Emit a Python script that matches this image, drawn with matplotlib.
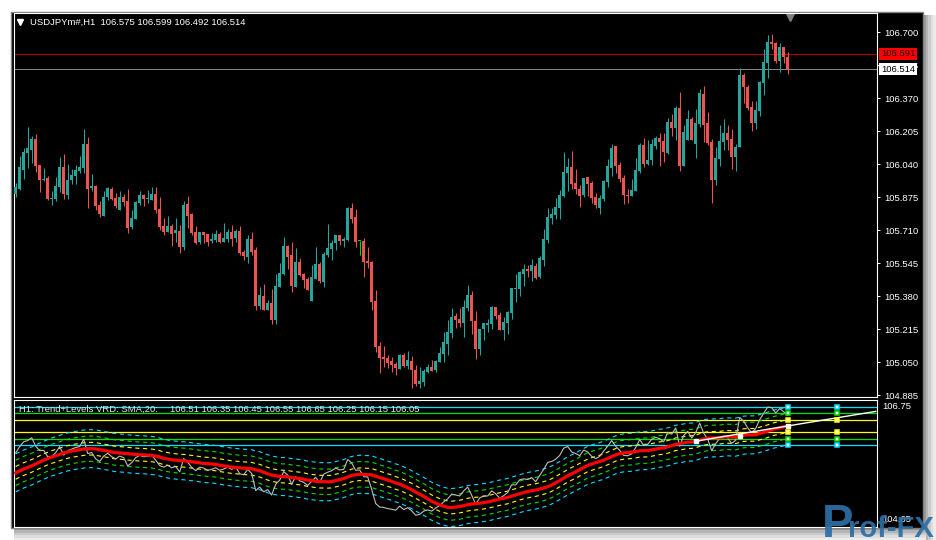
import numpy as np
import matplotlib
matplotlib.use("Agg")
import matplotlib.pyplot as plt
from matplotlib.patches import Rectangle
from matplotlib.transforms import blended_transform_factory

plt.rcParams['font.family'] = ['Liberation Sans', 'DejaVu Sans']
plt.rcParams['lines.scale_dashes'] = False

# ---------------- data (USDJPY H1 candles) ----------------
opens = [105.890, 105.915, 106.010, 106.095, 106.110, 106.165, 106.035, 105.960, 105.970, 105.865,
         105.865, 105.925, 106.025, 105.885, 105.960, 105.980, 106.005, 106.020, 106.140, 105.920,
         105.930, 105.835, 105.780, 105.875, 105.915, 105.870, 105.810, 105.875, 105.855, 105.725,
         105.765, 105.845, 105.885, 105.865, 105.860, 105.890, 105.815, 105.730, 105.700, 105.730,
         105.695, 105.705, 105.625, 105.840, 105.790, 105.700, 105.650, 105.700, 105.690, 105.655,
         105.660, 105.690, 105.650, 105.665, 105.700, 105.670, 105.705, 105.600, 105.575, 105.665,
         105.610, 105.330, 105.380, 105.310, 105.345, 105.260, 105.425, 105.490, 105.630, 105.585,
         105.425, 105.550, 105.490, 105.465, 105.355, 105.465, 105.540, 105.450, 105.585, 105.615,
         105.645, 105.685, 105.655, 105.660, 105.820, 105.775, 105.655, 105.655, 105.555, 105.550,
         105.355, 105.130, 105.075, 105.070, 105.055, 105.040, 105.015, 105.085, 105.030, 105.055,
         105.010, 104.940, 104.950, 105.000, 105.025, 105.010, 105.050, 105.090, 105.140, 105.195,
         105.280, 105.265, 105.245, 105.320, 105.385, 105.255, 105.115, 105.215, 105.235, 105.240,
         105.325, 105.285, 105.210, 105.245, 105.295, 105.415, 105.415, 105.490, 105.515, 105.505,
         105.530, 105.475, 105.560, 105.660, 105.770, 105.785, 105.820, 105.880, 105.995, 106.025,
         105.945, 105.915, 105.885, 105.975, 105.945, 105.875, 105.820, 105.865, 105.950, 106.020,
         106.130, 106.035, 105.970, 105.885, 105.880, 105.905, 106.005, 106.135, 106.040, 106.060,
         106.130, 106.170, 106.155, 106.095, 106.250, 106.220, 106.320, 106.030, 106.160, 106.265,
         106.140, 106.240, 106.390, 106.245, 106.150, 105.960, 106.065, 106.150, 106.195, 106.165,
         106.075, 106.125, 106.485, 106.425, 106.325, 106.245, 106.305, 106.445, 106.545, 106.650,
         106.645, 106.555, 106.625, 106.575]
highs = [105.945, 106.080, 106.120, 106.225, 106.180, 106.190, 106.035, 106.020, 105.980, 105.905,
         105.975, 106.075, 106.090, 106.040, 106.015, 106.035, 106.080, 106.215, 106.175, 105.990,
         105.935, 105.855, 105.905, 105.925, 105.925, 105.895, 105.905, 105.890, 105.915, 105.810,
         105.855, 105.905, 105.890, 105.910, 105.925, 105.925, 105.875, 105.770, 105.780, 105.740,
         105.770, 105.735, 105.855, 105.880, 105.795, 105.730, 105.700, 105.700, 105.690, 105.695,
         105.710, 105.700, 105.745, 105.715, 105.735, 105.715, 105.730, 105.610, 105.685, 105.700,
         105.625, 105.425, 105.440, 105.360, 105.415, 105.490, 105.545, 105.675, 105.635, 105.650,
         105.620, 105.570, 105.495, 105.475, 105.535, 105.625, 105.550, 105.600, 105.740, 105.660,
         105.685, 105.685, 105.675, 105.825, 105.845, 105.815, 105.655, 105.670, 105.625, 105.555,
         105.410, 105.150, 105.130, 105.085, 105.075, 105.050, 105.090, 105.095, 105.105, 105.080,
         105.035, 105.025, 105.015, 105.040, 105.060, 105.060, 105.125, 105.200, 105.260, 105.320,
         105.295, 105.320, 105.360, 105.435, 105.405, 105.305, 105.215, 105.245, 105.265, 105.330,
         105.325, 105.300, 105.275, 105.305, 105.420, 105.490, 105.505, 105.540, 105.535, 105.565,
         105.545, 105.580, 105.715, 105.820, 105.820, 105.870, 105.910, 106.100, 106.070, 106.105,
         106.015, 105.935, 105.970, 105.975, 105.955, 105.895, 105.885, 105.960, 106.065, 106.140,
         106.130, 106.050, 105.985, 105.915, 105.965, 106.070, 106.145, 106.170, 106.160, 106.165,
         106.180, 106.195, 106.195, 106.270, 106.290, 106.330, 106.400, 106.235, 106.310, 106.275,
         106.315, 106.415, 106.430, 106.300, 106.165, 106.125, 106.235, 106.265, 106.235, 106.215,
         106.140, 106.520, 106.495, 106.435, 106.355, 106.355, 106.455, 106.615, 106.685, 106.690,
         106.650, 106.645, 106.625, 106.599]
lows = [105.875, 105.910, 105.965, 106.020, 106.045, 106.000, 105.900, 105.955, 105.860, 105.835,
        105.855, 105.900, 105.865, 105.865, 105.940, 105.940, 105.995, 105.995, 105.820, 105.905,
        105.810, 105.775, 105.780, 105.860, 105.860, 105.820, 105.810, 105.830, 105.695, 105.715,
        105.765, 105.835, 105.830, 105.845, 105.860, 105.795, 105.710, 105.685, 105.700, 105.630,
        105.650, 105.595, 105.610, 105.720, 105.685, 105.640, 105.640, 105.645, 105.630, 105.645,
        105.650, 105.645, 105.650, 105.650, 105.630, 105.650, 105.585, 105.560, 105.545, 105.585,
        105.310, 105.315, 105.310, 105.310, 105.240, 105.240, 105.425, 105.485, 105.515, 105.400,
        105.425, 105.480, 105.420, 105.410, 105.355, 105.465, 105.445, 105.425, 105.575, 105.560,
        105.610, 105.635, 105.625, 105.655, 105.745, 105.625, 105.585, 105.475, 105.520, 105.310,
        105.100, 104.995, 105.025, 105.020, 105.000, 104.985, 105.015, 105.025, 105.015, 104.920,
        104.930, 104.920, 104.930, 104.995, 105.005, 105.000, 105.050, 105.050, 105.085, 105.170,
        105.220, 105.225, 105.175, 105.305, 105.190, 105.065, 105.085, 105.160, 105.200, 105.215,
        105.265, 105.210, 105.160, 105.190, 105.265, 105.350, 105.380, 105.430, 105.475, 105.455,
        105.465, 105.470, 105.530, 105.645, 105.740, 105.765, 105.765, 105.875, 105.905, 105.915,
        105.890, 105.825, 105.875, 105.880, 105.845, 105.820, 105.790, 105.855, 105.925, 105.980,
        105.995, 105.950, 105.840, 105.845, 105.880, 105.905, 105.995, 106.025, 106.035, 106.035,
        106.115, 106.030, 106.050, 106.090, 106.180, 106.160, 106.005, 106.030, 106.160, 106.160,
        106.070, 106.225, 106.150, 106.135, 105.845, 105.935, 106.030, 106.110, 106.110, 106.015,
        106.005, 106.125, 106.345, 106.310, 106.205, 106.215, 106.280, 106.385, 106.470, 106.615,
        106.545, 106.500, 106.545, 106.492]
closes = [105.925, 106.025, 106.100, 106.120, 106.165, 106.030, 105.960, 105.965, 105.865, 105.870,
          105.930, 106.025, 105.890, 105.960, 105.985, 106.010, 106.025, 106.140, 105.915, 105.930,
          105.830, 105.790, 105.875, 105.920, 105.865, 105.830, 105.875, 105.850, 105.720, 105.770,
          105.850, 105.885, 105.865, 105.870, 105.890, 105.810, 105.725, 105.700, 105.730, 105.690,
          105.710, 105.625, 105.835, 105.780, 105.695, 105.645, 105.700, 105.685, 105.650, 105.665,
          105.690, 105.650, 105.670, 105.700, 105.665, 105.705, 105.595, 105.580, 105.665, 105.600,
          105.330, 105.385, 105.310, 105.345, 105.260, 105.430, 105.495, 105.630, 105.575, 105.430,
          105.550, 105.485, 105.460, 105.410, 105.475, 105.540, 105.455, 105.590, 105.620, 105.645,
          105.685, 105.655, 105.665, 105.820, 105.765, 105.650, 105.655, 105.550, 105.545, 105.350,
          105.125, 105.070, 105.065, 105.045, 105.035, 105.020, 105.085, 105.030, 105.060, 105.010,
          104.940, 104.955, 105.005, 105.025, 105.005, 105.055, 105.095, 105.150, 105.200, 105.275,
          105.260, 105.245, 105.325, 105.385, 105.255, 105.115, 105.215, 105.245, 105.245, 105.325,
          105.280, 105.210, 105.250, 105.300, 105.420, 105.420, 105.500, 105.515, 105.505, 105.535,
          105.470, 105.570, 105.665, 105.775, 105.790, 105.825, 105.885, 106.000, 106.025, 105.940,
          105.915, 105.880, 105.970, 105.940, 105.870, 105.835, 105.870, 105.955, 106.030, 106.120,
          106.030, 105.965, 105.885, 105.880, 105.910, 106.010, 106.135, 106.040, 106.060, 106.140,
          106.170, 106.150, 106.100, 106.250, 106.220, 106.320, 106.030, 106.200, 106.265, 106.160,
          106.245, 106.395, 106.235, 106.145, 105.960, 106.070, 106.155, 106.195, 106.160, 106.075,
          106.125, 106.485, 106.425, 106.320, 106.245, 106.310, 106.450, 106.550, 106.650, 106.640,
          106.555, 106.625, 106.575, 106.514]

# SMA(20) values for the first bars (history before the window)
sma_head = [105.610, 105.640, 105.670, 105.695, 105.720, 105.750, 105.780, 105.810, 105.835, 105.860,
            105.880, 105.900, 105.925, 105.940, 105.955, 105.965, 105.975, 105.985, 105.990]
sma_period = 20
level_offsets = [0.1, 0.2, 0.3]
level_colors = ['#ffff00', '#00dd00', '#00e0ff']
ask_price = 106.591
price_ticks = [104.885, 105.050, 105.215, 105.380, 105.545, 105.710, 105.875,
               106.040, 106.205, 106.370, 106.535, 106.700]
trend_bars = [170, 215]
trend_vals = [106.11, 106.58]
marker_bars = [170, 181]
sub_max_label = '106.75'
sub_min_label = '104.65'
symbol = 'USDJPYm#,H1'
ind_name = 'H1: Trend+Levels VRD: SMA,20:'

o = np.array(opens); h = np.array(highs); l = np.array(lows); c = np.array(closes)
n = len(c)
x = np.arange(n)
sma = np.empty(n)
sma[:sma_period - 1] = sma_head
cs = np.convolve(c, np.ones(sma_period) / sma_period, mode='valid')
sma[sma_period - 1:] = cs
center = round(sma[-1], 2)

# ---------------- figure ----------------
W, H = 936, 540
fig = plt.figure(figsize=(W / 100, H / 100), dpi=100)
fig.patch.set_facecolor('white')

bg = fig.add_axes([0, 0, 1, 1])
bg.set_xlim(0, W); bg.set_ylim(H, 0); bg.axis('off')
shades = ['#9a9a9a', '#b4b4b4', '#cbcbcb', '#dedede', '#ececec']
for k, col in enumerate(shades):
    bg.add_patch(Rectangle((923 + k * 2.6, 15), 2.7, 527, color=col, lw=0))
    bg.add_patch(Rectangle((14, 528 + k * 2.4), 912, 2.5, color=col, lw=0))
bg.add_patch(Rectangle((11, 12), 912, 516, facecolor='black', edgecolor='#808080', lw=1))

xl = (-0.425, 215.325)

# ---------------- main price panel ----------------
ax = fig.add_axes([14 / W, 1 - 397 / H, 863 / W, 384 / H])
ax.set_facecolor('black')
ax.set_xlim(*xl)
ax.set_ylim(104.875, 106.795)
for s in ax.spines.values():
    s.set_color('white'); s.set_linewidth(0.8)
ax.set_xticks([])
ax.yaxis.tick_right()
ax.set_yticks(price_ticks)
ax.set_yticklabels([f'{t:.3f}' for t in price_ticks])
ax.tick_params(axis='y', colors='white', length=2, width=0.7, pad=3, labelsize=6.8)

up_col, dn_col, doji_col = '#26a69a', '#ef5350', '#00dd00'
cols = np.where(c > o, up_col, np.where(c < o, dn_col, doji_col))
ax.vlines(x, l, h, colors=cols, lw=0.75, zorder=3)
body = np.maximum(np.abs(c - o), 0.004)
ax.bar(x, body, bottom=np.minimum(o, c), width=0.75, color=cols, lw=0, zorder=3)

ax.axhline(ask_price, color='#c00000', lw=0.7, zorder=2)
ax.axhline(c[-1], color='#8c8c8c', lw=0.7, zorder=2)

trans = blended_transform_factory(ax.transAxes, ax.transData)
ax.text(1.0046, ask_price, f'{ask_price:.3f}', transform=trans, ha='left', va='center',
        fontsize=6.8, color='#200000', clip_on=False, zorder=6,
        bbox=dict(boxstyle='square,pad=0.18', fc='#ff0000', ec='none'))
ax.text(1.0046, c[-1], f'{c[-1]:.3f}', transform=trans, ha='left', va='center',
        fontsize=6.8, color='black', clip_on=False, zorder=6,
        bbox=dict(boxstyle='square,pad=0.18', fc='white', ec='none'))

title = f'{symbol}  {o[-1]:.3f} {h[-1]:.3f} {l[-1]:.3f} {c[-1]:.3f}'
ax.text(0.0185, 0.9766, title, transform=ax.transAxes, color='white', fontsize=6.8,
        ha='left', va='center')
ax.plot([0.0075], [0.977], marker='v', color='white', ms=4, transform=ax.transAxes, clip_on=False)
ax.plot([0.8992], [0.99], marker='v', color='#7f7f7f', ms=6, transform=ax.transAxes, clip_on=False)

# ---------------- indicator sub-panel ----------------
ax2 = fig.add_axes([14 / W, 1 - 527 / H, 863 / W, 127 / H])
ax2.set_facecolor('black')
ax2.set_xlim(*xl)
ax2.set_ylim(104.755, 106.76)
for s in ax2.spines.values():
    s.set_color('white'); s.set_linewidth(0.8)
ax2.set_xticks([]); ax2.set_yticks([])

for off, col in zip(level_offsets, level_colors):
    ax2.axhline(center + off, color=col, lw=0.9, zorder=2)
    ax2.axhline(center - off, color=col, lw=0.9, zorder=2)
    ax2.plot(x, sma + off, color=col, lw=0.8, ls=(0, (3, 2.6)), zorder=3)
    ax2.plot(x, sma - off, color=col, lw=0.8, ls=(0, (3, 2.6)), zorder=3)

ax2.plot(x, c, color='#bdbdbd', lw=0.8, zorder=4)
ax2.plot(x, sma, color='#ff0000', lw=2.3, zorder=5)
ax2.plot(trend_bars, trend_vals, color='white', lw=1.0, zorder=6, clip_on=False)
ax2.plot(marker_bars, sma[marker_bars], ls='none', marker='s', ms=3.4, color='white', zorder=7)

sq_x = [n - 1, 205.3]
for off, col in zip(level_offsets, level_colors):
    for lv in (center + off, center - off):
        ax2.plot(sq_x, [lv, lv], ls='none', marker='s', ms=2.9, mfc='white', mec=col,
                 mew=1.1, zorder=8)
ax2.plot([n - 1], [center], ls='none', marker='s', ms=3.2, color='white', zorder=8)

ind_vals = [c[-1], sma[-1]] + [center + v for v in level_offsets] + [center - v for v in level_offsets]
ax2.text(0.0058, 0.929, ind_name, transform=ax2.transAxes, color='#e6e6e6', fontsize=6.8,
         ha='left', va='center', zorder=9)
ax2.text(0.1808, 0.929, ' '.join(f'{v:.2f}' for v in ind_vals), transform=ax2.transAxes,
         color='#e6e6e6', fontsize=6.8, ha='left', va='center', zorder=9)
ax2.text(1.006, 0.945, sub_max_label, transform=ax2.transAxes, color='white', fontsize=6.8,
         ha='left', va='center', clip_on=False)
ax2.text(1.006, 0.06, sub_min_label, transform=ax2.transAxes, color='white', fontsize=6.8,
         ha='left', va='center', clip_on=False)

# ---------------- watermark logo ----------------
fig.text(822 / W, 1 - 537 / H, 'P', fontsize=34, fontweight='bold', color='#2d6ea5',
         ha='left', va='baseline', alpha=0.92, zorder=20)
fig.text(848 / W, 1 - 537 / H, 'rof-FX', fontsize=21, fontweight='bold', color='#2d6ea5',
         ha='left', va='baseline', alpha=0.92, zorder=20)

fig.savefig('out.png', dpi=100, facecolor='white')
